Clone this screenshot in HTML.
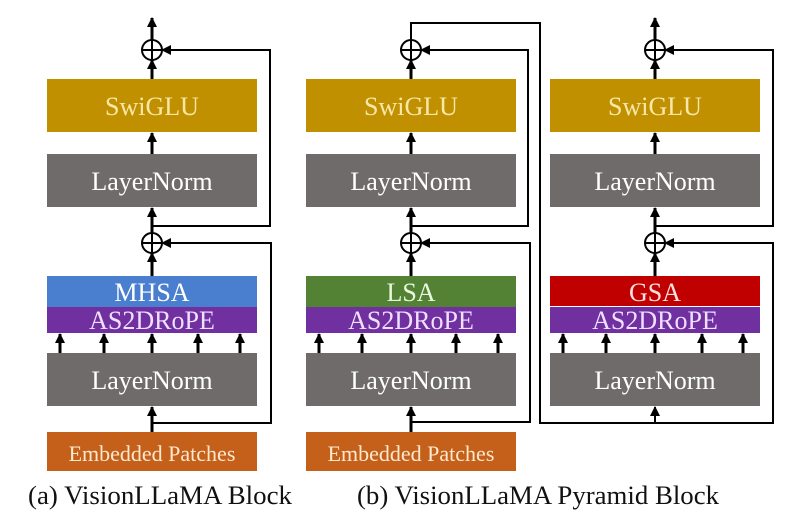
<!DOCTYPE html>
<html><head><style>body{margin:0;background:#fff}</style></head><body>
<svg width="800" height="525" viewBox="0 0 800 525" xmlns="http://www.w3.org/2000/svg" style="font-family:'Liberation Serif','Times New Roman','DejaVu Serif',serif">
<defs>
<marker id="b" markerWidth="10" markerHeight="10" refX="9" refY="5" orient="auto" markerUnits="userSpaceOnUse"><path d="M0,0 L10,5 L0,10z" fill="#000"/></marker></defs>
<g stroke="#000" fill="none" stroke-width="2">
<line x1="152" y1="40" x2="152" y2="18" stroke-width="3" marker-end="url(#b)"/>
<line x1="152" y1="79" x2="152" y2="60" stroke-width="3" marker-end="url(#b)"/>
<line x1="152" y1="154" x2="152" y2="133" stroke-width="3" marker-end="url(#b)"/>
<line x1="152" y1="233" x2="152" y2="208" stroke-width="3" marker-end="url(#b)"/>
<line x1="152" y1="276" x2="152" y2="253" stroke-width="3" marker-end="url(#b)"/>
<line x1="152" y1="432" x2="152" y2="407" stroke-width="3" marker-end="url(#b)"/>
<polyline points="152,226 270,226 270,50 162,50" marker-end="url(#b)"/>
<polyline points="152,423 271,423 271,243 162,243" marker-end="url(#b)"/>
<line x1="411" y1="79" x2="411" y2="60" stroke-width="3" marker-end="url(#b)"/>
<line x1="411" y1="154" x2="411" y2="133" stroke-width="3" marker-end="url(#b)"/>
<line x1="411" y1="233" x2="411" y2="208" stroke-width="3" marker-end="url(#b)"/>
<line x1="411" y1="276" x2="411" y2="253" stroke-width="3" marker-end="url(#b)"/>
<line x1="411" y1="432" x2="411" y2="407" stroke-width="3" marker-end="url(#b)"/>
<polyline points="411,226 528,226 528,50 421,50" marker-end="url(#b)"/>
<polyline points="411,422 530,422 530,243 421,243" marker-end="url(#b)"/>
<polyline points="411,40 411,23 540,23 540,423 655,423 655,407" marker-end="url(#b)"/>
<line x1="655" y1="40" x2="655" y2="18" stroke-width="3" marker-end="url(#b)"/>
<line x1="655" y1="79" x2="655" y2="60" stroke-width="3" marker-end="url(#b)"/>
<line x1="655" y1="154" x2="655" y2="133" stroke-width="3" marker-end="url(#b)"/>
<line x1="655" y1="233" x2="655" y2="208" stroke-width="3" marker-end="url(#b)"/>
<line x1="655" y1="276" x2="655" y2="253" stroke-width="3" marker-end="url(#b)"/>
<polyline points="655,226 773,226 773,50 665,50" marker-end="url(#b)"/>
<polyline points="655,423 773,423 773,243 665,243" marker-end="url(#b)"/>
</g>
<g stroke="#000" stroke-width="2" fill="none">
<circle cx="152" cy="50" r="10"/><path d="M142,50h20M152,40v20"/>
<circle cx="152" cy="243" r="10"/><path d="M142,243h20M152,233v20"/>
<circle cx="411" cy="50" r="10"/><path d="M401,50h20M411,40v20"/>
<circle cx="411" cy="243" r="10"/><path d="M401,243h20M411,233v20"/>
<circle cx="655" cy="50" r="10"/><path d="M645,50h20M655,40v20"/>
<circle cx="655" cy="243" r="10"/><path d="M645,243h20M655,233v20"/>
</g>
<g stroke="#000" stroke-width="3" marker-end="url(#b)">
<line x1="60" y1="353" x2="60" y2="334"/><line x1="104" y1="353" x2="104" y2="334"/><line x1="152" y1="353" x2="152" y2="334"/><line x1="198" y1="353" x2="198" y2="334"/><line x1="240" y1="353" x2="240" y2="334"/>
<line x1="319" y1="353" x2="319" y2="334"/><line x1="362" y1="353" x2="362" y2="334"/><line x1="411" y1="353" x2="411" y2="334"/><line x1="456" y1="353" x2="456" y2="334"/><line x1="498" y1="353" x2="498" y2="334"/>
<line x1="563" y1="353" x2="563" y2="334"/><line x1="606" y1="353" x2="606" y2="334"/><line x1="655" y1="353" x2="655" y2="334"/><line x1="702" y1="353" x2="702" y2="334"/><line x1="743" y1="353" x2="743" y2="334"/>
</g>
<g font-size="26" text-anchor="middle">
<rect x="47" y="79" width="210" height="53" fill="#c09000"/><text x="152" y="115" fill="#f8e8a8">SwiGLU</text>
<rect x="47" y="154" width="210" height="53" fill="#6f6b6b"/><text x="152" y="190" fill="#fff">LayerNorm</text>
<rect x="47" y="276" width="210" height="31" fill="#4a7fd0"/><text x="152" y="301" fill="#fff">MHSA</text>
<rect x="47" y="307" width="210" height="26" fill="#7030a0"/><text x="152" y="329" fill="#f0e0ff">AS2DRoPE</text>
<rect x="47" y="353" width="210" height="53" fill="#6f6b6b"/><text x="152" y="389" fill="#fff">LayerNorm</text>
<rect x="47" y="432" width="210" height="39" fill="#c5601a"/><text x="152" y="461" fill="#fde8d0" font-size="22">Embedded Patches</text>

<rect x="306" y="79" width="210" height="53" fill="#c09000"/><text x="411" y="115" fill="#f8e8a8">SwiGLU</text>
<rect x="306" y="154" width="210" height="53" fill="#6f6b6b"/><text x="411" y="190" fill="#fff">LayerNorm</text>
<rect x="306" y="276" width="210" height="31" fill="#548235"/><text x="411" y="301" fill="#e8f8e0">LSA</text>
<rect x="306" y="307" width="210" height="26" fill="#7030a0"/><text x="411" y="329" fill="#f0e0ff">AS2DRoPE</text>
<rect x="306" y="353" width="210" height="53" fill="#6f6b6b"/><text x="411" y="389" fill="#fff">LayerNorm</text>
<rect x="306" y="432" width="210" height="39" fill="#c5601a"/><text x="411" y="461" fill="#fde8d0" font-size="22">Embedded Patches</text>

<rect x="550" y="79" width="210" height="53" fill="#c09000"/><text x="655" y="115" fill="#f8e8a8">SwiGLU</text>
<rect x="550" y="154" width="210" height="53" fill="#6f6b6b"/><text x="655" y="190" fill="#fff">LayerNorm</text>
<rect x="550" y="276" width="210" height="30" fill="#c00000"/><text x="655" y="301" fill="#ffe0e0">GSA</text>
<rect x="550" y="307" width="210" height="26" fill="#7030a0"/><text x="655" y="329" fill="#f0e0ff">AS2DRoPE</text>
<rect x="550" y="353" width="210" height="53" fill="#6f6b6b"/><text x="655" y="389" fill="#fff">LayerNorm</text>
</g>
<g font-size="26" fill="#111">
<text x="28" y="504" textLength="264" lengthAdjust="spacingAndGlyphs">(a) VisionLLaMA Block</text>
<text x="357" y="504" textLength="362" lengthAdjust="spacingAndGlyphs">(b) VisionLLaMA Pyramid Block</text>
</g>
</svg>
</body></html>
